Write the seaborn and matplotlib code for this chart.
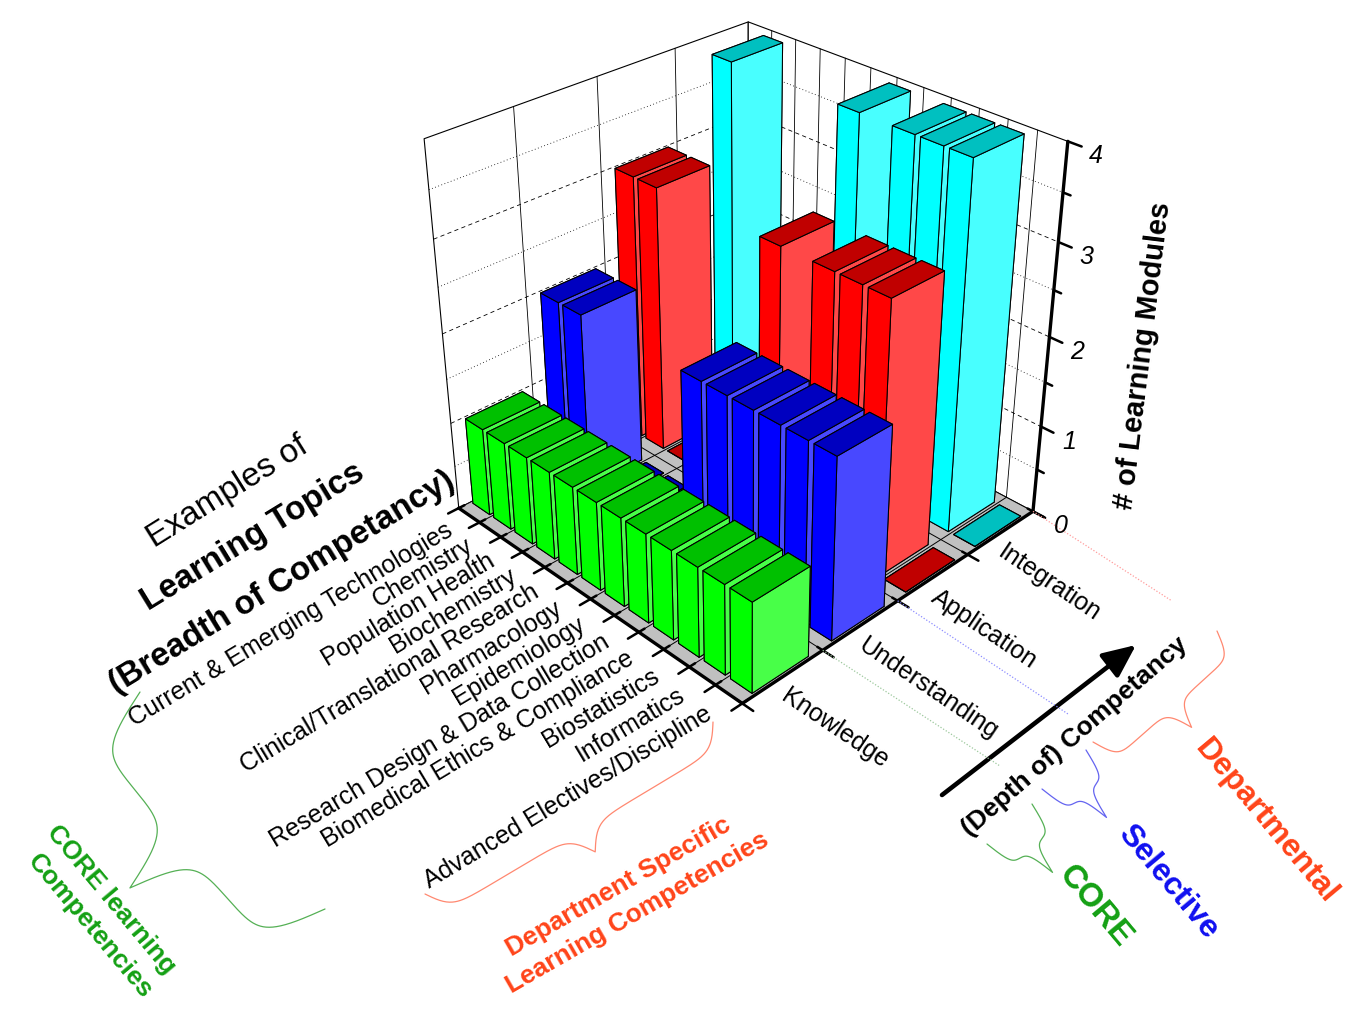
import numpy as np
import matplotlib
matplotlib.use("Agg")
import matplotlib.pyplot as plt
import seaborn as sns
from mpl_toolkits.mplot3d.art3d import Poly3DCollection
from matplotlib.patches import FancyArrowPatch

sns.set_theme(style="white")
plt.rcParams["font.family"] = ["Liberation Sans", "DejaVu Sans"]
plt.rcParams["text.color"] = "black"

# values: number of learning modules per topic and depth level
topics = ["Current & Emerging Technologies", "Chemistry", "Population Health",
          "Biochemistry", "Clinical/Translational Research", "Pharmacology",
          "Epidemiology", "Research Design & Data Collection",
          "Biomedical Ethics & Compliance", "Biostatistics", "Informatics",
          "Advanced Electives/Discipline"]
levels = ["Knowledge", "Understanding", "Application", "Integration"]
knowledge = [1, 1, 1, 1, 1, 1, 1, 1, 1, 1, 1, 1]
understanding = [2, 2, 0, 0, 0, 0, 2, 2, 2, 2, 2, 2]
application = [3, 3, 0, 0, 0, 0, 3, 0, 3, 3, 3, 0]
integration = [0, 4, 0, 0, 0, 0, 4, 0, 4, 4, 4, 0]
z_ticks = [0, 1, 2, 3, 4]

# (side face, lit face, top face)
level_colors = {
    "Knowledge": ("#00ff00", "#48ff48", "#00c000"),
    "Understanding": ("#0000ff", "#4848ff", "#0000c0"),
    "Application": ("#ff0000", "#ff4848", "#c00000"),
    "Integration": ("#00ffff", "#48ffff", "#00c0c0"),
}
values = dict(zip(levels, [knowledge, understanding, application, integration]))

W, H = 1365, 1020
fig = plt.figure(figsize=(W / 100, H / 100), dpi=100)
ax = fig.add_axes([0.15, 0.1, 0.6, 0.6 * W / H], projection="3d")
ax.computed_zorder = False
ax.set_axis_off()
ax.set_facecolor("none")

nt, nl = len(topics), len(levels)
x0, x1 = 0.5, nt + 0.5
y0, y1 = 0.5, nl + 0.5
z0, z1 = 0, max(z_ticks)
ax.set_xlim(x0, x1)
ax.set_ylim(y0, y1)
ax.set_zlim(z0, z1)

# where the box edges sit in the picture (pixels), used to match the camera
edge_x = [460, 480, 501, 523, 545, 566, 590, 614, 638, 663, 687, 717, 742]
edge_y = [508, 525, 540, 553, 568, 583, 600, 617, 633, 650, 667, 685, 705]
guide = [((x0 + i, y0, 0), (edge_x[i], edge_y[i])) for i in range(nt + 1)]
guide += [((x1, y0 + j, 0), p) for j, p in
          enumerate([(742, 704), (825, 653), (898, 603), (970, 557), (1033, 511)])]
guide += [((x1, y1, zz), p) for zz, p in
          zip([1, 2, 3, 4], [(1040, 425), (1048, 337), (1058, 243), (1068, 145)])]
guide += [((x0, y0 + j, z1), p) for j, p in
          enumerate([(425, 138), (513, 108), (597, 77), (675, 49), (748, 23)])]
pts3 = np.array([g[0] for g in guide], float)
tgt = np.array([(g[1][0], H - g[1][1]) for g in guide], float)


def projected(params):
    elev, azim, f, zasp, yasp = params
    ax.view_init(elev=elev, azim=azim)
    ax.set_proj_type("persp", focal_length=f)
    ax.set_box_aspect((1, yasp, zasp))
    hom = np.column_stack([pts3, np.ones(len(pts3))]) @ ax.get_proj().T
    return ax.transData.transform(hom[:, :2] / hom[:, 3:4])


def fit(P):
    Pm, Tm = P.mean(0), tgt.mean(0)
    k = ((P - Pm) * (tgt - Tm)).sum() / ((P - Pm) ** 2).sum()
    res = ((k * (P - Pm) - (tgt - Tm)) ** 2).sum()
    return res, k, Tm - k * Pm


fig.canvas.draw()
p = np.array([30.0, -45.0, 0.45, 1.0, 1.0])
step = np.array([2.0, 1.0, 0.05, 0.05, 0.05])
best = fit(projected(p))[0]
for _ in range(300):
    improved = False
    for i in range(len(p)):
        for sgn in (1, -1):
            trial = p.copy()
            trial[i] += sgn * step[i]
            if trial[2] < 0.12:
                continue
            r = fit(projected(trial))[0]
            if r < best:
                best, p, improved = r, trial, True
    if not improved:
        step /= 2
        if step.max() < 1e-3:
            break
projected(p)
AZIM = p[1]

for _ in range(2):
    fig.canvas.draw()
    _, k, b = fit(projected(p))
    bb = ax.bbox
    c0 = np.array([(bb.x0 + bb.x1) / 2, (bb.y0 + bb.y1) / 2])
    cn = b + k * c0
    s = bb.width * k
    ax.set_position([(cn[0] - s / 2) / W, (cn[1] - s / 2) / H, s / W, s / H])

# back walls with grid
walls = [[(x0, y0, z0), (x0, y1, z0), (x0, y1, z1), (x0, y0, z1)],
         [(x0, y1, z0), (x1, y1, z0), (x1, y1, z1), (x0, y1, z1)]]
ax.add_collection3d(Poly3DCollection(walls, facecolor="white", edgecolor="black",
                                     linewidth=0.8, zorder=1))
for yb in np.arange(y0 + 1, y1):
    ax.plot([x0, x0], [yb, yb], [z0, z1], color="black", lw=0.6, zorder=2)
for xb in np.arange(x0 + 1, x1):
    ax.plot([xb, xb], [y1, y1], [z0, z1], color="black", lw=0.6, zorder=2)
for zg in np.arange(0.5, z1, 0.5):
    ls = (0, (5, 4)) if zg % 1 == 0 else (0, (1, 3))
    ax.plot([x0, x0, x1], [y0, y1, y1], [zg, zg, zg], color="black", lw=0.6,
            ls=ls, zorder=2)

# grey floor with cell lines
ax.add_collection3d(Poly3DCollection([[(x0, y0, 0), (x1, y0, 0), (x1, y1, 0), (x0, y1, 0)]],
                                     facecolor="#c0c0c0", edgecolor="none", zorder=3))
for xb in np.arange(x0, x1 + 0.01):
    ax.plot([xb, xb], [y0, y1], [0, 0], color="black", lw=0.7, zorder=4)
for yb in np.arange(y0, y1 + 0.01):
    ax.plot([x0, x1], [yb, yb], [0, 0], color="black", lw=0.7, zorder=4)

# bars, painted back to front
az = np.deg2rad(AZIM)
cells = []
for li, lev in enumerate(levels):
    for ti in range(nt):
        cells.append((ti + 1, li + 1, values[lev][ti], lev))
cells.sort(key=lambda c: (c[0] - 0.5) / nt * np.cos(az) + (c[1] - 0.5) / nl * np.sin(az))
wt, wd = 0.8, 0.7
for n, (xt, yl, v, lev) in enumerate(cells):
    face, lit, top = level_colors[lev]
    ax.bar3d(xt - wt / 2, yl - wd / 2, 0, wt, wd, v,
             color=[face, top, face, face, face, lit], shade=False,
             edgecolor="black", linewidth=0.75, zorder=10 + n)

# axis lines and ticks
axis_kw = dict(color="black", lw=2.4, zorder=500)
ax.plot([x0, x1], [y0, y0], [0, 0], **axis_kw)
ax.plot([x1, x1], [y0, y1], [0, 0], **axis_kw)
ax.plot([x1, x1], [y1, y1], [z0, z1], **axis_kw)
for xb in np.arange(x0, x1 + 0.01):
    ax.plot([xb, xb], [y0 - 0.13, y0 + 0.07], [0, 0], color="black", lw=1.8, zorder=500)
for yb in np.arange(y0, y1 + 0.01):
    ax.plot([x1 - 0.2, x1 + 0.4], [yb, yb], [0, 0], color="black", lw=1.8, zorder=500)
for zt in np.arange(z0, z1 + 0.01, 0.5):
    ln = 0.45 if zt % 1 == 0 else 0.25
    ax.plot([x1, x1 + ln], [y1, y1], [zt, zt], color="black", lw=1.8, zorder=500)
ax.set_xlim(x0, x1)
ax.set_ylim(y0, y1)
ax.set_zlim(z0, z1)
for art in ax.get_children():
    art.set_clip_on(False)
fig.canvas.draw()


def project(x, y, z):
    v = ax.get_proj() @ np.array([x, y, z, 1.0])
    return ax.transData.transform((v[0] / v[3], v[1] / v[3]))


# overlay in picture pixels for labels and annotations
ov = fig.add_axes([0, 0, 1, 1], zorder=10)
ov.set_xlim(0, W)
ov.set_ylim(H, 0)
ov.axis("off")
inv = ov.transData.inverted()


def to_ov(x, y, z):
    return inv.transform(project(x, y, z))


for i, name in enumerate(topics):
    px, py = to_ov(i + 1, y0 - 0.3, 0)
    ov.text(px + 6, py, name, rotation=31, rotation_mode="anchor", ha="right",
            va="center", fontsize=18)
for j, name in enumerate(levels):
    px, py = to_ov(x1 + 0.15, j + 1, 0)
    ov.text(px - 4, py + 14, name, rotation=-34, rotation_mode="anchor", ha="left",
            va="center", fontsize=18)
for zt in z_ticks:
    px, py = to_ov(x1, y1, zt)
    ov.text(px + 28, py + 14, str(zt), fontsize=18, style="italic", ha="center", va="center")

ov.text(228, 492, "Examples of", rotation=32, fontsize=24, ha="center", va="center")
ov.text(253, 537, "Learning Topics", rotation=31.5, fontsize=24, weight="bold",
        ha="center", va="center")
ov.text(282, 583, "(Breadth of Competancy)", rotation=31.5, fontsize=24, weight="bold",
        ha="center", va="center")
ov.text(1143, 356, "# of Learning Modules", rotation=83, fontsize=21, weight="bold",
        ha="center", va="center")
ov.text(1075, 737, "(Depth of) Competancy", rotation=41, fontsize=19, weight="bold",
        ha="center", va="center")
ov.add_patch(FancyArrowPatch((942, 796), (1136, 646),
                             arrowstyle="-|>,head_length=1.0,head_width=0.45",
                             mutation_scale=20, lw=3.3, color="black",
                             shrinkA=0, shrinkB=0))

green, red, blue = "#14a014", "#ff4419", "#1010f0"

# guide lines from the depth boundaries
for yb, col, end in [(y1, "#ff9c9c", (1172, 602)), (y0 + 2, "#8c8cff", (1068, 715)),
                     (y0 + 1, "#9cc89c", (1000, 767))]:
    sx, sy = to_ov(x1, yb, 0)
    ov.plot([sx, end[0]], [sy, end[1]], color=col, lw=0.9, ls=(0, (1, 1.5)))


def brace(p0, p1, tip, color, beta):
    p0, p1, tip = (np.asarray(a, float) for a in (p0, p1, tip))
    u = p1 - p0
    L = np.hypot(*u)
    u = u / L
    nrm = np.array([-u[1], u[0]])
    hh = np.dot(tip - (p0 + p1) / 2, nrm)
    sh = np.linspace(0, L / 2, 200)
    yh = 1 / (1 + np.exp(-beta * sh)) + 1 / (1 + np.exp(-beta * (sh - L / 2)))
    vh = (0.5 * yh - 0.25) * 2 * hh
    sa = np.concatenate([sh, L - sh[-2::-1]])
    va = np.concatenate([vh, vh[-2::-1]])
    pts = p0[None, :] + sa[:, None] * u + va[:, None] * nrm
    ov.plot(pts[:, 0], pts[:, 1], color=color, lw=0.9)


brace((140, 693), (325, 910), (130, 889), "#55b055", 0.1)
brace((425, 895), (713, 723), (595, 853), "#ff8870", 0.12)
brace((1093, 743), (1217, 632), (1192, 728), "#ff8870", 0.22)
brace((1042, 790), (1086, 751), (1107, 818), "#6464f0", 0.35)
brace((987, 845), (1032, 805), (1053, 873), "#55b055", 0.35)

ov.text(111, 900, "CORE learning", color=green, fontsize=19, weight="bold",
        rotation=-50, ha="center", va="center")
ov.text(90, 926, "Competencies", color=green, fontsize=19, weight="bold",
        rotation=-50, ha="center", va="center")
ov.text(618, 887, "Department Specific", color=red, fontsize=19, weight="bold",
        rotation=30, ha="center", va="center")
ov.text(637, 913, "Learning Competencies", color=red, fontsize=19, weight="bold",
        rotation=30, ha="center", va="center")
ov.text(1095, 906, "CORE", color=green, fontsize=24, weight="bold",
        rotation=-50, ha="center", va="center")
ov.text(1168, 882, "Selective", color=blue, fontsize=23, weight="bold",
        rotation=-50, ha="center", va="center")
ov.text(1266, 822, "Departmental", color=red, fontsize=23, weight="bold",
        rotation=-50, ha="center", va="center")

fig.savefig("out.png", dpi=100)
